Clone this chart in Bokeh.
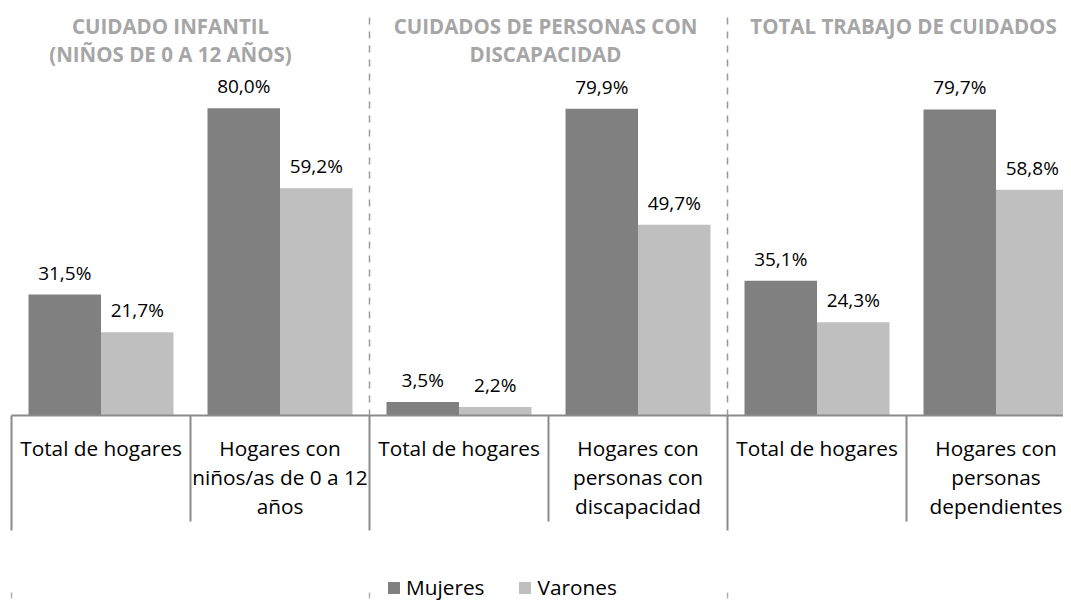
from bokeh.plotting import figure
from bokeh.models import ColumnDataSource, Legend, LegendItem, Range1d
from bokeh.core.properties import value
from bokeh.embed import file_html
from bokeh.resources import INLINE

# ---------------- data ----------------
categories = [
    "Total de hogares",
    "Hogares con\nniños/as de 0 a 12\naños",
    "Total de hogares",
    "Hogares con\npersonas con\ndiscapacidad",
    "Total de hogares",
    "Hogares con\npersonas\ndependientes",
]
mujeres = [31.5, 80.0, 3.5, 79.9, 35.1, 79.7]
varones = [21.7, 59.2, 2.2, 49.7, 24.3, 58.8]
sections = [
    "CUIDADO INFANTIL\n(NIÑOS DE 0 A 12 AÑOS)",
    "CUIDADOS DE PERSONAS CON\nDISCAPACIDAD",
    "TOTAL TRABAJO DE CUIDADOS",
]
series_names = ["Mujeres", "Varones"]

# ---------------- styling / layout ----------------
C_M = "#808080"
C_V = "#bfbfbf"
AXIS_C = "#8a8a8a"
HEAD_C = "#a6a6a6"
FONT = "Open Sans"
W, H = 1063, 605
PX_PER_CAT = 179.0
PX_PER_UNIT = 3.84
BASE_PX = 415
LEFT_PX = 11

x0 = -LEFT_PX / PX_PER_CAT
x1 = (W - LEFT_PX) / PX_PER_CAT
y1 = BASE_PX / PX_PER_UNIT
y0 = -(H - BASE_PX) / PX_PER_UNIT

def ypx(py):
    return (BASE_PX - py) / PX_PER_UNIT

def xpx(px):
    return (px - LEFT_PX) / PX_PER_CAT

p = figure(width=W, height=H, output_backend="svg", toolbar_location=None,
           x_range=Range1d(x0, x1), y_range=Range1d(y0, y1),
           min_border=0, outline_line_color=None)
p.axis.visible = False
p.grid.visible = False
p.background_fill_color = "white"
p.border_fill_color = "white"

n = len(categories)
centers = [i + 0.5 for i in range(n)]
bw = 0.405
xm = [c - bw / 2 for c in centers]
xv = [c + bw / 2 for c in centers]

src = ColumnDataSource(dict(
    xm=xm, xv=xv, m=mujeres, v=varones,
    ml=[f"{v:.1f}".replace(".", ",") + "%" for v in mujeres],
    vl=[f"{v:.1f}".replace(".", ",") + "%" for v in varones],
    mly=[v + 22 / PX_PER_UNIT for v in mujeres],
    vly=[v + 22 / PX_PER_UNIT for v in varones],
))

rm = p.vbar(x="xm", top="m", bottom=0, width=bw, source=src,
            fill_color=C_M, line_color=None)
rv = p.vbar(x="xv", top="v", bottom=0, width=bw, source=src,
            fill_color=C_V, line_color=None)

p.text(x="xm", y="mly", text="ml", source=src, text_align="center",
       text_baseline="middle", text_font=value(FONT), text_font_size="19px",
       text_color="#000000")
p.text(x="xv", y="vly", text="vl", source=src, text_align="center",
       text_baseline="middle", text_font=value(FONT), text_font_size="19px",
       text_color="#000000")

# baseline
p.segment(x0=[0], y0=[0], x1=[x1 + 1], y1=[0], line_color=AXIS_C, line_width=2)

# category boundary lines
long_b = [0, 2, 4, 6]
short_b = [1, 3, 5]
p.segment(x0=long_b, y0=[0] * 4, x1=long_b, y1=[ypx(530)] * 4,
          line_color=AXIS_C, line_width=2)
p.segment(x0=short_b, y0=[0] * 3, x1=short_b, y1=[ypx(521)] * 3,
          line_color=AXIS_C, line_width=2)
p.segment(x0=[0, 2, 4], y0=[ypx(592)] * 3, x1=[0, 2, 4], y1=[ypx(598)] * 3,
          line_color="#b0b0b0", line_width=1.5)

# dashed section separators
p.segment(x0=[2, 4], y0=[ypx(17)] * 2, x1=[2, 4], y1=[0, 0],
          line_color="#9a9a9a", line_width=1.5, line_dash="7 7")

# category labels (split into lines)
lx, ly, lt = [], [], []
line_rows = [447, 476, 505]
for i, lab in enumerate(categories):
    for j, part in enumerate(lab.split("\n")):
        lx.append(centers[i]); ly.append(ypx(line_rows[j])); lt.append(part)
p.text(x=lx, y=ly, text=lt, text_align="center", text_baseline="middle",
       text_font=value(FONT), text_font_size="20.8px", text_color="#000000")

# section headers
hx, hy, ht = [], [], []
head_pos = [xpx(170), xpx(545), xpx(903)]
head_rows = [25, 53]
for i, s in enumerate(sections):
    for j, part in enumerate(s.split("\n")):
        hx.append(head_pos[i]); hy.append(ypx(head_rows[j])); ht.append(part)
p.text(x=hx, y=hy, text=ht, text_align="center",
       text_baseline="middle", text_font=value(FONT), text_font_style="bold",
       text_font_size="20.5px", text_color=HEAD_C)

legend = Legend(items=[LegendItem(label=series_names[0], renderers=[rm]),
                       LegendItem(label=series_names[1], renderers=[rv])],
                orientation="horizontal", location=(386, 4),
                glyph_width=15, glyph_height=15, label_standoff=5,
                label_text_font=FONT, label_text_font_size="20.8px",
                label_text_color="#000000",
                spacing=33, padding=0, margin=0, border_line_color=None,
                background_fill_alpha=0, label_height=15, label_width=20)
p.add_layout(legend)

open("out.html", "w").write(file_html(p, INLINE))
